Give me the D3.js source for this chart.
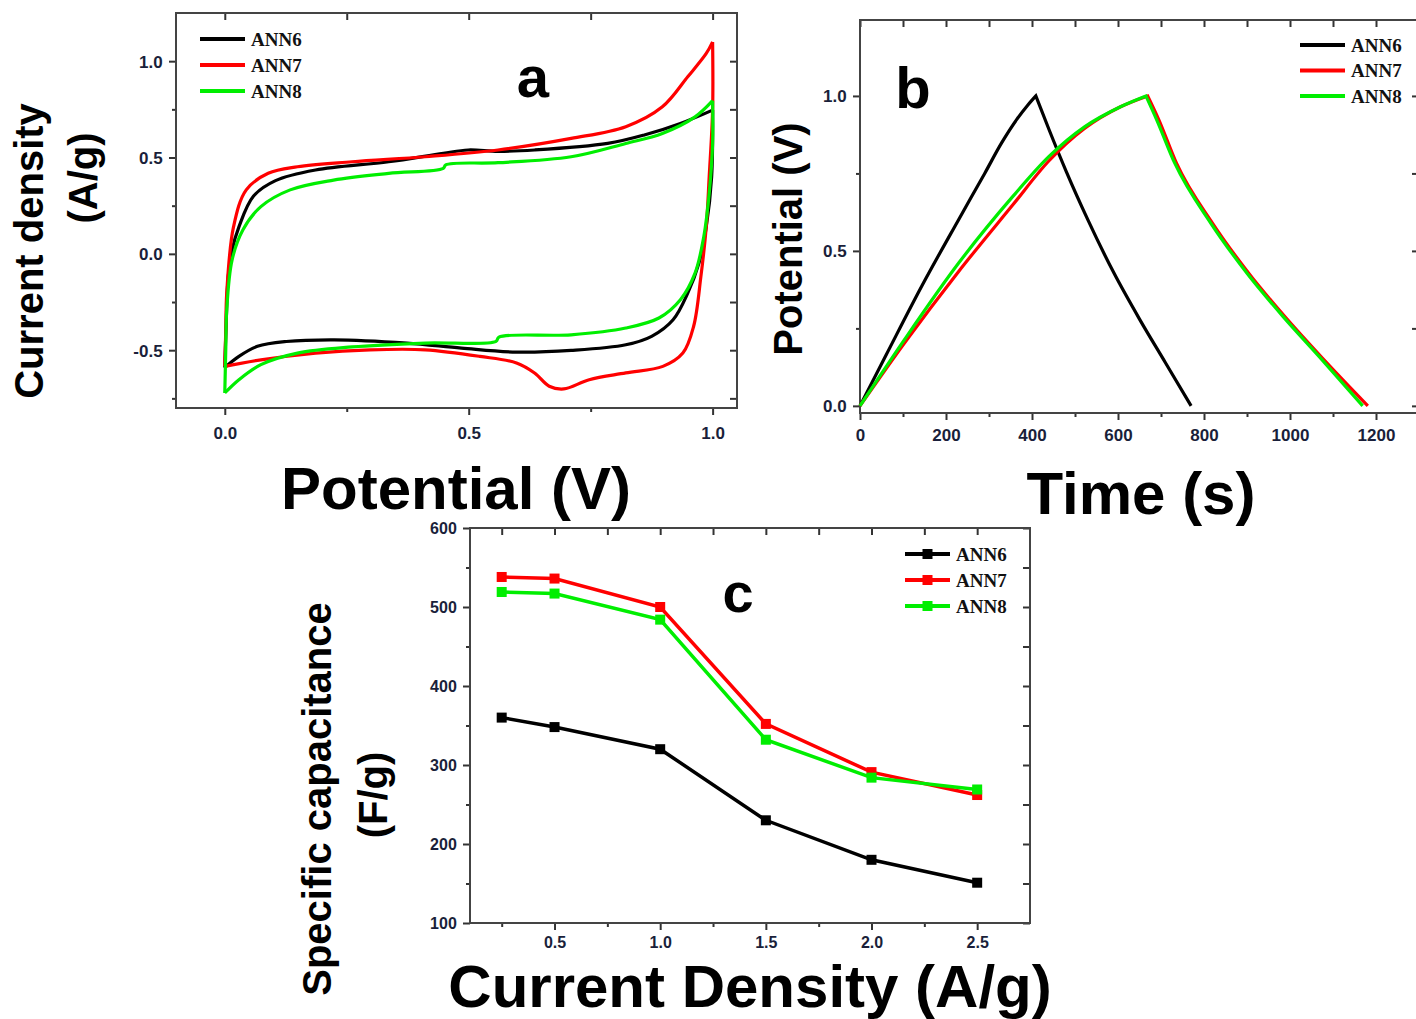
<!DOCTYPE html>
<html>
<head>
<meta charset="utf-8">
<script src="https://cdn.jsdelivr.net/npm/d3@7"></script>
<style>
  body { margin: 0; background: #fff; }
  svg { display: block; }
</style>
</head>
<body>
<svg id="chart" width="1416" height="1019"></svg>
<script>
// series names
const seriesNames = ["ANN6", "ANN7", "ANN8"];

// (a) cyclic voltammetry, [potential V, current A/g]; forward and reverse scans
const cvForwardANN6 = [[0, -0.59], [0.003, -0.35], [0.007, -0.12], [0.015, 0.02], [0.029, 0.14], [0.059, 0.3], [0.104, 0.38], [0.186, 0.435], [0.336, 0.478], [0.448, 0.522], [0.499, 0.539], [0.56, 0.532], [0.635, 0.539], [0.785, 0.573], [0.86, 0.617], [0.934, 0.677], [1.0, 0.746]];
const cvReverseANN6 = [[1.0, 0.746], [0.998, 0.4], [0.987, 0.141], [0.972, -0.048], [0.949, -0.204], [0.919, -0.342], [0.875, -0.428], [0.822, -0.472], [0.71, -0.501], [0.598, -0.51], [0.485, -0.489], [0.373, -0.463], [0.224, -0.446], [0.126, -0.455], [0.067, -0.48], [0.029, -0.532], [0, -0.59]];
const cvForwardANN7 = [[0, -0.584], [0.002, -0.4], [0.004, -0.204], [0.018, 0.141], [0.044, 0.332], [0.089, 0.418], [0.149, 0.452], [0.261, 0.478], [0.411, 0.504], [0.56, 0.539], [0.71, 0.599], [0.822, 0.66], [0.897, 0.763], [0.949, 0.919], [0.987, 1.04], [1.0, 1.1]];
const cvReverseANN7 = [[1.0, 1.1], [1.0, 0.746], [0.993, 0.4], [0.987, 0.141], [0.976, -0.117], [0.961, -0.377], [0.939, -0.515], [0.898, -0.584], [0.822, -0.618], [0.747, -0.653], [0.695, -0.701], [0.665, -0.687], [0.635, -0.618], [0.598, -0.566], [0.523, -0.532], [0.411, -0.498], [0.298, -0.498], [0.186, -0.515], [0.074, -0.55], [0, -0.584]];
const cvForwardANN8 = [[0, -0.722], [0.002, -0.5], [0.004, -0.29], [0.015, -0.031], [0.037, 0.124], [0.074, 0.245], [0.134, 0.332], [0.223, 0.383], [0.336, 0.418], [0.448, 0.444], [0.453, 0.462], [0.56, 0.473], [0.71, 0.504], [0.822, 0.573], [0.897, 0.625], [0.964, 0.711], [1.0, 0.795]];
const cvReverseANN8 = [[1.0, 0.795], [1.0, 0.573], [0.993, 0.314], [0.982, 0.09], [0.964, -0.1], [0.934, -0.238], [0.89, -0.333], [0.822, -0.385], [0.71, -0.42], [0.562, -0.432], [0.556, -0.454], [0.411, -0.463], [0.261, -0.483], [0.149, -0.515], [0.074, -0.575], [0.029, -0.653], [0, -0.722]];

// (b) galvanostatic charge / discharge, [time s, potential V]
const gcdChargeANN6 = [[0, 0], [61, 0.165], [145, 0.39], [229, 0.6], [290, 0.75], [330, 0.85], [365, 0.925], [390, 0.97], [409, 1.0]];
const gcdDischargeANN6 = [[409, 1.0], [440, 0.89], [480, 0.755], [530, 0.6], [590, 0.43], [650, 0.28], [710, 0.14], [770, 0]];
const gcdChargeANN7 = [[0, 0], [103, 0.202], [229, 0.433], [355, 0.648], [439, 0.79], [522, 0.895], [606, 0.965], [669, 1.0]];
const gcdDischargeANN7 = [[669, 1.0], [695, 0.923], [736, 0.783], [820, 0.589], [904, 0.428], [988, 0.288], [1072, 0.159], [1181, 0]];
const gcdChargeANN8 = [[0, 0], [103, 0.213], [229, 0.46], [355, 0.675], [439, 0.804], [523, 0.901], [607, 0.966], [665, 1.0]];
const gcdDischargeANN8 = [[665, 1.0], [690, 0.923], [732, 0.783], [816, 0.589], [900, 0.428], [984, 0.288], [1068, 0.159], [1169, 0]];

// (c) specific capacitance vs current density
const currentDensity = [0.25, 0.5, 1.0, 1.5, 2.0, 2.5];
const capANN6 = [360, 348, 320, 230, 180, 151];
const capANN7 = [538, 536, 500, 352, 291, 262];
const capANN8 = [519, 517, 484, 332, 284, 269];

// tick values
const cvXTicks = [0, 0.5, 1.0];
const cvXMinor = [0.25, 0.75];
const cvYTicks = [-0.5, 0, 0.5, 1.0];
const cvYMinor = [-0.75, -0.25, 0.25, 0.75];
const gcdXTicks = [0, 200, 400, 600, 800, 1000, 1200];
const gcdXMinor = [100, 300, 500, 700, 900, 1100];
const gcdYTicks = [0, 0.5, 1.0];
const gcdYMinor = [0.25, 0.75];
const capXTicks = [0.5, 1.0, 1.5, 2.0, 2.5];
const capXMinor = [0.25, 0.75, 1.25, 1.75, 2.25];
const capYTicks = [100, 200, 300, 400, 500, 600];
const capYMinor = [150, 250, 350, 450, 550];

const colors = ["#000000", "#ff0000", "#00ee00"];
const sans = "'Liberation Sans', Arial, sans-serif";
const serif = "'Liberation Serif', 'Times New Roman', serif";

const svg = d3.select("#chart");

// frame + axes for one panel
function drawFrame(box, x, y, t) {
  const g = svg.append("g");
  const tickColor = "#333";

  function axis(gen, tr, vals, size, fmt) {
    const a = g.append("g")
      .attr("transform", tr)
      .call(gen.tickValues(vals).tickSize(size).tickSizeOuter(0)
        .tickFormat(fmt || (() => "")));
    a.select(".domain").remove();
    a.selectAll("line").attr("stroke", tickColor).attr("stroke-width", 2);
    a.selectAll("text")
      .attr("font-family", sans)
      .attr("font-weight", "bold")
      .attr("font-size", t.fontSize || 17)
      .attr("fill", "#1a1f3a");
    return a;
  }

  // left / bottom outward, top / right inward
  axis(d3.axisBottom(x), `translate(0,${box.y1})`, t.xMajor, 7, t.xfmt)
    .selectAll("text").attr("dy", t.xdy || "1.1em");
  axis(d3.axisBottom(x), `translate(0,${box.y1})`, t.xMinor, 4);
  axis(d3.axisLeft(y), `translate(${box.x0},0)`, t.yMajor, 7, t.yfmt)
    .selectAll("text").attr("dx", "-0.2em").attr("dy", "0.35em");
  axis(d3.axisLeft(y), `translate(${box.x0},0)`, t.yMinor, 4);
  axis(d3.axisTop(x), `translate(0,${box.y0})`, t.xMajor.concat(t.xMinor), -7);
  axis(d3.axisRight(y), `translate(${box.x1},0)`, t.yMajor.concat(t.yMinor), -7);

  g.append("rect")
    .attr("x", box.x0).attr("y", box.y0)
    .attr("width", box.x1 - box.x0).attr("height", box.y1 - box.y0)
    .attr("fill", "none").attr("stroke", "#444").attr("stroke-width", 2);
}

function drawLegend(x0, y0, dy, withMarker) {
  const g = svg.append("g");
  seriesNames.forEach((name, i) => {
    const yy = y0 + i * dy;
    g.append("line")
      .attr("x1", x0).attr("x2", x0 + 45).attr("y1", yy).attr("y2", yy)
      .attr("stroke", colors[i]).attr("stroke-width", 4);
    if (withMarker) {
      g.append("rect")
        .attr("x", x0 + 22.5 - 5).attr("y", yy - 5)
        .attr("width", 10).attr("height", 10)
        .attr("fill", colors[i]);
    }
    g.append("text")
      .attr("x", x0 + 51).attr("y", yy)
      .attr("dy", "0.35em")
      .attr("font-family", serif).attr("font-weight", "bold")
      .attr("font-size", 19).attr("fill", "#111")
      .text(name);
  });
}

function label(text, x, y, size, rotate) {
  svg.append("text")
    .attr("transform", `translate(${x},${y})` + (rotate ? " rotate(-90)" : ""))
    .attr("text-anchor", "middle")
    .attr("font-family", sans).attr("font-weight", "bold")
    .attr("font-size", size).attr("fill", "#000")
    .text(text);
}

function panelLetter(text, x, y, size) {
  svg.append("text").attr("x", x).attr("y", y)
    .attr("text-anchor", "middle")
    .attr("font-family", sans).attr("font-weight", "bold").attr("font-size", size)
    .text(text);
}

const oneDecimal = d => d3.format(".1f")(d).replace("−", "-");

// ---------- panel a ----------
{
  const box = { x0: 176, x1: 737, y0: 13, y1: 408 };
  const x = d3.scaleLinear().domain([-0.1, 1.05]).range([box.x0, box.x1]);
  const y = d3.scaleLinear().domain([-0.8, 1.25]).range([box.y1, box.y0]);
  drawFrame(box, x, y, {
    xMajor: cvXTicks, xMinor: cvXMinor, yMajor: cvYTicks, yMinor: cvYMinor,
    xfmt: oneDecimal, yfmt: oneDecimal, xdy: "1.25em"
  });
  const line = d3.line().x(d => x(d[0])).y(d => y(d[1]))
    .curve(d3.curveCatmullRom.alpha(0.5));
  const cv = [
    [cvForwardANN6, cvReverseANN6],
    [cvForwardANN7, cvReverseANN7],
    [cvForwardANN8, cvReverseANN8]
  ];
  cv.forEach((branches, i) => {
    branches.forEach(b => {
      svg.append("path").attr("d", line(b))
        .attr("fill", "none").attr("stroke", colors[i])
        .attr("stroke-width", 3.2).attr("stroke-linejoin", "round");
    });
  });
  drawLegend(200, 39, 26, false);
  panelLetter("a", 533, 97, 58);
  label("Potential (V)", 456, 509, 60, false);
  label("Current density", 43, 251, 40, true);
  label("(A/g)", 97, 178, 40, true);
}

// ---------- panel b ----------
{
  const box = { x0: 860, x1: 1419, y0: 20, y1: 413 };
  const x = d3.scaleLinear().domain([0, 1300]).range([box.x0, box.x1]);
  const y = d3.scaleLinear().domain([-0.023, 1.245]).range([box.y1, box.y0]);
  drawFrame(box, x, y, {
    xMajor: gcdXTicks, xMinor: gcdXMinor, yMajor: gcdYTicks, yMinor: gcdYMinor,
    xfmt: d3.format("d"), yfmt: oneDecimal, xdy: "1.05em"
  });
  const line = d3.line().x(d => x(d[0])).y(d => y(d[1])).curve(d3.curveMonotoneX);
  const gcd = [
    [gcdChargeANN6, gcdDischargeANN6],
    [gcdChargeANN7, gcdDischargeANN7],
    [gcdChargeANN8, gcdDischargeANN8]
  ];
  gcd.forEach((parts, i) => {
    svg.append("path").attr("d", line(parts[0]) + line(parts[1]).replace(/^M/, "L"))
      .attr("fill", "none").attr("stroke", colors[i])
      .attr("stroke-width", 3.2).attr("stroke-linejoin", "miter");
  });
  drawLegend(1300, 45, 25.5, false);
  panelLetter("b", 913, 108, 58);
  label("Time (s)", 1141, 514, 60, false);
  label("Potential (V)", 802, 239, 40, true);
}

// ---------- panel c ----------
{
  const box = { x0: 470, x1: 1030, y0: 528, y1: 923 };
  const x = d3.scaleLinear().domain([0.1, 2.75]).range([box.x0, box.x1]);
  const y = d3.scaleLinear().domain([100, 600]).range([box.y1, box.y0]);
  drawFrame(box, x, y, {
    xMajor: capXTicks, xMinor: capXMinor, yMajor: capYTicks, yMinor: capYMinor,
    xfmt: oneDecimal, yfmt: d3.format("d"), xdy: "0.95em", fontSize: 16
  });
  const line = d3.line().x((d, j) => x(currentDensity[j])).y(d => y(d));
  [capANN6, capANN7, capANN8].forEach((vals, i) => {
    svg.append("path").attr("d", line(vals))
      .attr("fill", "none").attr("stroke", colors[i])
      .attr("stroke-width", 3.5);
    svg.append("g").selectAll("rect")
      .data(vals).join("rect")
      .attr("x", (d, j) => x(currentDensity[j]) - 5)
      .attr("y", d => y(d) - 5)
      .attr("width", 10).attr("height", 10)
      .attr("fill", colors[i]);
  });
  drawLegend(905, 554, 26, true);
  panelLetter("c", 738, 612, 56);
  label("Current Density (A/g)", 750, 1007, 60, false);
  label("Specific capacitance", 331, 799, 40, true);
  label("(F/g)", 387, 795, 40, true);
}
</script>
</body>
</html>
